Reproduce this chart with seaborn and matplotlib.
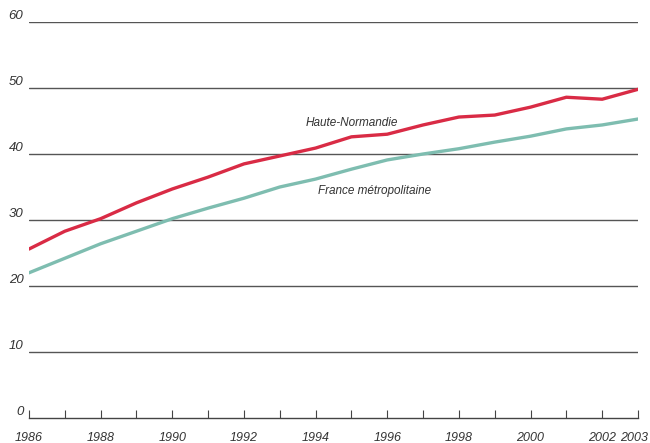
import pandas as pd
import matplotlib.pyplot as plt
import matplotlib.transforms as mtransforms
import seaborn as sns

# Data
years = list(range(1986, 2004))
haute_normandie = [25.6, 28.3, 30.2, 32.6, 34.7, 36.5, 38.5, 39.7, 40.9, 42.6,
                   43.0, 44.4, 45.6, 45.9, 47.1, 48.6, 48.3, 49.8]
france_metro = [22.0, 24.2, 26.4, 28.3, 30.2, 31.8, 33.3, 35.0, 36.2, 37.7,
                39.1, 40.0, 40.8, 41.8, 42.7, 43.8, 44.4, 45.3]
tick_years = [1986, 1988, 1990, 1992, 1994, 1996, 1998, 2000, 2002, 2003]
y_ticks = [0, 10, 20, 30, 40, 50, 60]

df = pd.DataFrame({
    'Année': years * 2,
    'Valeur': haute_normandie + france_metro,
    'Zone': ['Haute-Normandie'] * len(years) + ['France métropolitaine'] * len(years),
})

sns.set_style("white")
plt.rcParams['font.family'] = ['Liberation Sans Narrow', 'Liberation Sans', 'DejaVu Sans']
plt.rcParams['font.style'] = 'italic'

fig = plt.figure(figsize=(6.5, 4.43), dpi=100)
ax = fig.add_axes([29 / 650, 1 - 418 / 443, (638 - 29) / 650, (418 - 22) / 443])

# horizontal grid lines
for v in y_ticks[1:]:
    ax.axhline(v, color='#555555', lw=1.0, zorder=1)

palette = {'Haute-Normandie': '#d92b45', 'France métropolitaine': '#7ebdb0'}
sns.lineplot(data=df, x='Année', y='Valeur', hue='Zone', palette=palette,
             lw=2.4, legend=False, ax=ax, zorder=3)

ax.set_xlim(1986, 2003)
ax.set_ylim(0, 60)
ax.set_xlabel('')
ax.set_ylabel('')

for s in ['top', 'right', 'left']:
    ax.spines[s].set_visible(False)
ax.spines['bottom'].set_color('#444444')
ax.spines['bottom'].set_linewidth(1.0)

ax.set_xticks(years)
ax.set_xticklabels([str(y) if y in tick_years else '' for y in years])
ax.tick_params(axis='x', bottom=True, direction='in', length=6, width=0.8,
               color='#444444', labelsize=9, labelcolor='#333333', pad=10)
ax.set_yticks(y_ticks)
ax.set_yticklabels([str(v) for v in y_ticks])
ax.tick_params(axis='y', left=False, length=0, labelsize=9.5, labelcolor='#333333', pad=4)
for lbl in ax.get_yticklabels():
    lbl.set_verticalalignment('bottom')
for lbl in ax.get_xticklabels():
    if lbl.get_text() == '2003':
        lbl.set_transform(lbl.get_transform() +
                          mtransforms.ScaledTranslation(-3 / 72, 0, fig.dpi_scale_trans))

ax.text(1995.0, 44.7, 'Haute-Normandie', fontsize=8.5, style='italic',
        color='#333333', ha='center', va='center')
ax.text(1995.66, 34.4, 'France métropolitaine', fontsize=8.5, style='italic',
        color='#333333', ha='center', va='center')

fig.savefig('out.png', dpi=100)
